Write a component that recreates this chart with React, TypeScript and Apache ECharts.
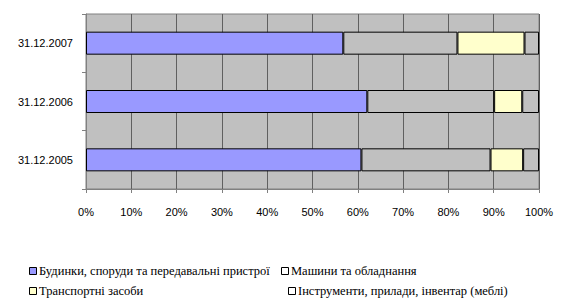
import React, { useEffect, useRef } from "react";
import * as echarts from "echarts";

const categories = ["31.12.2005", "31.12.2006", "31.12.2007"];
const seriesNames = [
  "Будинки, споруди та передавальні пристрої",
  "Машини та обладнання",
  "Транспортні засоби",
  "Інструменти, прилади, інвентар (меблі)",
];
const buildings = [60.8, 62.1, 56.8];
const machines = [28.5, 28.0, 25.2];
const transport = [7.2, 6.2, 14.8];
const tools = [3.5, 3.7, 3.2];
const xTicks = [0, 10, 20, 30, 40, 50, 60, 70, 80, 90, 100];

const fills = ["#9999FF", "#C0C0C0", "#FFFFCC", "#C0C0C0"];
const legendFills = ["#9999FF", "#FFFFFF", "#FFFFCC", "#FFFFFF"];
const legendPos = [
  { x: 29, y: 267 },
  { x: 281, y: 267 },
  { x: 29, y: 287 },
  { x: 288, y: 287 },
];

export default function App() {
  const ref = useRef<HTMLDivElement>(null);
  useEffect(() => {
    if (!ref.current) return;
    const chart = echarts.init(ref.current, null, { renderer: "svg" });
    const values = [buildings, machines, transport, tools];
    const legendGraphics: any[] = [];
    legendPos.forEach((p, i) => {
      legendGraphics.push({
        type: "rect",
        shape: { x: p.x + 0.5, y: p.y + 0.5, width: 7, height: 7 },
        style: { fill: legendFills[i], stroke: "#000", lineWidth: 1 },
        silent: true,
      });
      legendGraphics.push({
        type: "text",
        x: p.x + 10,
        y: p.y + 4,
        style: {
          text: seriesNames[i],
          font: "12.5px 'Times New Roman', 'Liberation Serif', serif",
          fill: "#000",
          verticalAlign: "middle",
          align: "left",
        },
        silent: true,
      });
    });
    chart.setOption({
      animation: false,
      backgroundColor: "#FFFFFF",
      grid: {
        left: 86,
        right: 37,
        top: 14,
        bottom: 113,
        show: true,
        backgroundColor: "#C0C0C0",
        borderColor: "#808080",
        borderWidth: 1,
      },
      xAxis: {
        type: "value",
        min: xTicks[0],
        max: xTicks[xTicks.length - 1],
        interval: 10,
        axisLine: { show: true, lineStyle: { color: "#808080", width: 1 } },
        axisTick: { show: true, length: 4, lineStyle: { color: "#808080" } },
        splitLine: { show: true, lineStyle: { color: "#606060", width: 1 } },
        axisLabel: {
          formatter: "{value}%",
          color: "#000",
          fontFamily: "Liberation Sans",
          fontSize: 11,
          margin: 17,
        },
      },
      yAxis: {
        type: "category",
        data: categories,
        axisLine: { show: true, lineStyle: { color: "#808080", width: 1 } },
        axisTick: { show: true, length: 4, lineStyle: { color: "#808080" } },
        axisLabel: {
          color: "#000",
          fontFamily: "Liberation Sans",
          fontSize: 11,
          margin: 13,
        },
      },
      graphic: legendGraphics,
      series: seriesNames.map((name, i) => ({
        name,
        type: "bar",
        stack: "total",
        barWidth: 23,
        data: values[i],
        itemStyle: { color: fills[i], borderColor: "#000", borderWidth: 1 },
        emphasis: { disabled: true },
      })),
    });
    return () => chart.dispose();
  }, []);
  return (
    <div
      ref={ref}
      style={{ position: "absolute", left: 0, top: 0, width: 576, height: 302 }}
    />
  );
}
